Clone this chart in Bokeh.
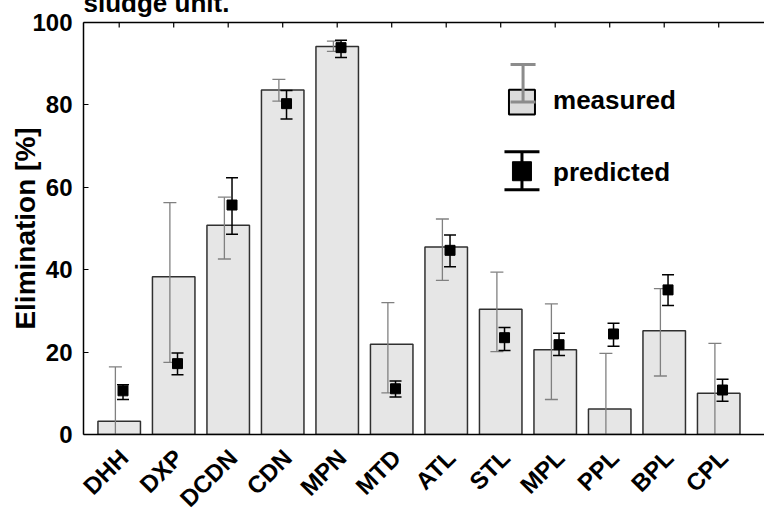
import math
from bokeh.plotting import figure
from bokeh.models import ColumnDataSource, Range1d, FixedTicker, LinearAxis, Title
from bokeh.core.properties import value
from bokeh.embed import file_html
from bokeh.resources import INLINE

# ---------------- data ----------------
categories = ["DHH", "DXP", "DCDN", "CDN", "MPN", "MTD", "ATL", "STL", "MPL", "PPL", "BPL", "CPL"]
measured = [3.2, 38.3, 50.8, 83.6, 94.2, 21.9, 45.5, 30.4, 20.6, 6.2, 25.2, 10.0]
measured_high = [16.4, 56.3, 57.6, 86.2, 95.5, 32.0, 52.3, 39.4, 31.7, 19.7, 35.4, 22.1]
measured_low = [-10.0, 17.5, 42.6, 80.9, 93.0, 10.1, 37.4, 20.1, 8.5, -7.3, 14.2, -2.1]
predicted = [10.6, 17.2, 55.7, 80.3, 93.9, 11.1, 44.7, 23.5, 21.8, 24.4, 35.1, 10.8]
predicted_high = [12.1, 19.8, 62.3, 83.5, 95.7, 13.0, 48.4, 26.0, 24.6, 27.0, 38.8, 13.4]
predicted_low = [8.5, 14.5, 48.6, 76.6, 91.5, 9.1, 40.7, 20.4, 19.2, 21.4, 31.3, 8.1]
y_ticks = [0, 20, 40, 60, 80, 100]
title_text = "sludge unit."
y_label = "Elimination [%]"
legend_labels = ["measured", "predicted"]

# ---------------- layout / style constants ----------------
FONT = "Liberation Sans"
OFFSET = 0.07
LABEL_SHIFT = 0.09
BAR_FILL = "#e6e6e6"
MEAS_COLOR = "#808080"
Y_MIN, Y_MAX = 0, 100
SHIFT_UP = 20      # the title sits partly above the visible page, as in the reference
EXTRA_BOTTOM = 12  # the rotated labels run off the bottom edge, as in the reference

xs = list(range(len(categories)))
label_pos = [i + LABEL_SHIFT for i in xs]
src = ColumnDataSource(dict(
    x=xs,
    xm=[i - OFFSET for i in xs],
    xp=[i + OFFSET for i in xs],
    measured=measured, mhigh=measured_high, mlow=measured_low,
    predicted=predicted, phigh=predicted_high, plow=predicted_low,
    top=[Y_MAX] * len(xs),
))

p = figure(width=764, height=512 + SHIFT_UP + EXTRA_BOTTOM, output_backend="svg",
           toolbar_location=None,
           x_range=Range1d(-0.655, 11.84), y_range=Range1d(Y_MIN, Y_MAX),
           min_border_left=83, min_border_right=0, min_border_top=22 + SHIFT_UP,
           min_border_bottom=78 + EXTRA_BOTTOM)
p.styles = {"margin-top": f"-{SHIFT_UP}px", "margin-bottom": f"-{EXTRA_BOTTOM}px"}
p.outline_line_color = None
p.xgrid.visible = False
p.ygrid.visible = False
p.background_fill_color = "white"

# bars
p.vbar(x="x", top="measured", bottom=0, width=0.78, source=src,
       fill_color=BAR_FILL, line_color="#303030", line_width=1.5)

# measured error bars
p.segment(x0="xm", y0="mlow", x1="xm", y1="mhigh", source=src,
          line_color=MEAS_COLOR, line_width=1.3)
p.scatter(x="xm", y="mhigh", source=src, marker="dash", size=13,
          line_color=MEAS_COLOR, line_width=1.3)
p.scatter(x="xm", y="mlow", source=src, marker="dash", size=13,
          line_color=MEAS_COLOR, line_width=1.3)

# predicted error bars
p.segment(x0="xp", y0="plow", x1="xp", y1="phigh", source=src,
          line_color="black", line_width=1.5)
p.scatter(x="xp", y="phigh", source=src, marker="dash", size=12,
          line_color="black", line_width=1.5)
p.scatter(x="xp", y="plow", source=src, marker="dash", size=12,
          line_color="black", line_width=1.5)
p.scatter(x="xp", y="predicted", source=src, marker="square", size=10,
          fill_color="black", line_color="black")

# inward ticks on the top frame edge (outer half is clipped by the frame)
p.scatter(x="x", y="top", source=src, marker="dash", angle=math.pi / 2, size=10,
          line_color="black", line_width=1.2)

# ---------------- legend (drawn) ----------------
LX = 7.39
p.vbar(x=[LX], top=[83.7], bottom=[77.7], width=0.477,
       fill_color="#dcdcdc", line_color="black", line_width=2)
p.segment(x0=[LX + 0.02], y0=[80.7], x1=[LX + 0.02], y1=[89.8],
          line_color="#8c8c8c", line_width=3)
p.scatter(x=[LX + 0.02, LX + 0.02], y=[89.8, 80.7], marker="dash", size=25,
          line_color="#8c8c8c", line_width=3)
p.segment(x0=[LX], y0=[59.4], x1=[LX], y1=[68.6], line_color="black", line_width=3)
p.scatter(x=[LX, LX], y=[68.6, 59.4], marker="dash", size=35,
          line_color="black", line_width=3)
p.scatter(x=[LX], y=[63.9], marker="square", size=19,
          fill_color="black", line_color="black")
p.text(x=[7.96, 7.96], y=[81.1, 63.7], text=legend_labels,
       text_font=value(FONT), text_font_style="bold", text_font_size="26px",
       text_baseline="middle", text_align="left", text_color="black")

# ---------------- axes ----------------
xa = p.xaxis[0]
xa.ticker = FixedTicker(ticks=label_pos)
xa.major_label_overrides = {pos: c for pos, c in zip(label_pos, categories)}
xa.major_label_orientation = math.pi / 4
xa.major_label_text_font = FONT
xa.major_label_text_font_style = "bold"
xa.major_label_text_font_size = "24px"
xa.major_label_text_color = "black"
xa.major_label_standoff = 19
xa.major_tick_in = 0
xa.major_tick_out = 0
xa.minor_tick_in = 0
xa.minor_tick_out = 0
xa.axis_line_width = 1.5
xa.axis_line_color = "black"

ya = p.yaxis[0]
ya.ticker = FixedTicker(ticks=y_ticks)
ya.major_tick_in = 5
ya.major_tick_out = 0
ya.minor_tick_in = 0
ya.minor_tick_out = 0
ya.major_tick_line_width = 1.2
ya.major_label_text_font = FONT
ya.major_label_text_font_style = "bold"
ya.major_label_text_font_size = "24px"
ya.major_label_text_color = "black"
ya.major_label_standoff = 11
ya.axis_label = y_label
ya.axis_label_text_font = FONT
ya.axis_label_text_font_style = "bold"
ya.axis_label_text_font_size = "28px"
ya.axis_label_text_color = "black"
ya.axis_label_standoff = -12
ya.axis_line_width = 1.5
ya.axis_line_color = "black"

# top frame line
top_axis = LinearAxis(ticker=FixedTicker(ticks=[]), major_tick_in=0, major_tick_out=0,
                      minor_tick_in=0, minor_tick_out=0,
                      axis_line_width=1.5, axis_line_color="black")
p.add_layout(top_axis, "above")

# title (its upper part falls above the visible page, as in the reference)
p.title = Title(text=title_text, text_font=FONT, text_font_style="bold",
                text_font_size="26px", text_color="black", align="left",
                vertical_align="bottom", standoff=9, offset=0)

open("out.html", "w").write(file_html(p, INLINE))
